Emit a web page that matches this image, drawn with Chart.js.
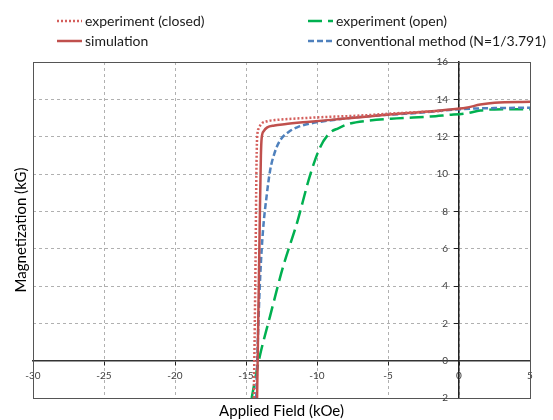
<!DOCTYPE html>
<html>
<head>
<meta charset="utf-8">
<script src="https://cdn.jsdelivr.net/npm/chart.js@4.4.0/dist/chart.umd.min.js"></script>
<style>
html, body { margin: 0; padding: 0; background: #fff; }
</style>
</head>
<body>
<canvas id="chart" width="553" height="420"></canvas>
<script>
// values (kOe / kG)
const closedX = [-14.45, -14.38, -14.32, -14.27, -14.22, -14.1, -13.9, -13.5, -12.8, -11.5, -9.5, -7, -4.5, -2.5, -1.2];
const closedY = [-2, 2, 6, 10, 11.9, 12.45, 12.7, 12.83, 12.9, 12.97, 13.05, 13.13, 13.25, 13.33, 13.38];

const simX = [-14.22, -14.12, -14.02, -13.95, -13.9, -13.75, -13.5, -13.0, -12.3, -10.5, -8, -5.5, -3, -1, 0.5, 1.5, 2.5, 5];
const simY = [-2, 3, 8, 11, 11.9, 12.3, 12.5, 12.6, 12.67, 12.8, 12.97, 13.15, 13.3, 13.43, 13.55, 13.72, 13.82, 13.87];

const openX = [-14.6, -14.1, -13.3, -12.4, -11.4, -10.5, -9.8, -9.1, -8.5, -7.7, -6.5, -4.4, -2, -0.8, 0.5, 1.5, 2.5, 5];
const openY = [-2, 0, 2.4, 5.0, 7.4, 9.9, 11.4, 12.2, 12.45, 12.7, 12.85, 12.98, 13.08, 13.16, 13.25, 13.4, 13.46, 13.47];

const convX = [-14.28, -14.15, -14.0, -13.8, -13.55, -13.3, -13.0, -12.6, -12.0, -11.4, -10.5, -9, -6.8, -3.2, 0.3, 2.5, 5];
const convY = [-2, 1.5, 4.5, 7.0, 8.8, 10.2, 11.1, 11.8, 12.25, 12.5, 12.7, 12.88, 13.07, 13.26, 13.48, 13.53, 13.55];

const labels = ['experiment (closed)', 'simulation', 'experiment (open)', 'conventional method (N=1/3.791)'];

function zip(xs, ys) {
    return xs.map((x, i) => ({ x: x, y: ys[i] }));
}

// legend drawn as a 2x2 grid like the original
const legendGrid = {
    id: 'legendGrid',
    afterDraw(chart) {
        const ctx = chart.ctx;
        const cols = [57, 308];
        const rows = [21, 41];
        chart.data.datasets.forEach((ds, i) => {
            const x = cols[Math.floor(i / 2)];
            const y = rows[i % 2];
            ctx.save();
            ctx.strokeStyle = ds.borderColor;
            ctx.lineWidth = ds.borderWidth;
            ctx.setLineDash(ds.borderDash || []);
            ctx.beginPath();
            ctx.moveTo(x, y);
            ctx.lineTo(x + 25, y);
            ctx.stroke();
            ctx.setLineDash([]);
            ctx.fillStyle = '#1a1a1a';
            ctx.font = '14px Lato';
            ctx.textBaseline = 'middle';
            ctx.fillText(ds.label, x + 28, y);
            ctx.restore();
        });
    }
};

// y labels sit a bit left of the centred axis, and the frame goes round the plot area
const plotFrame = {
    id: 'plotFrame',
    beforeDraw(chart) {
        const s = chart.scales.y;
        s.getLabelItems(chart.chartArea).forEach(it => {
            if (!it._moved) {
                it.options.translation[0] -= 11;
                it._moved = true;
            }
        });
    },
    afterDatasetsDraw(chart) {
        const a = chart.chartArea;
        const ctx = chart.ctx;
        ctx.save();
        ctx.strokeStyle = '#555';
        ctx.lineWidth = 1;
        ctx.strokeRect(Math.round(a.left) + 0.5, Math.round(a.top) + 0.5, Math.round(a.right - a.left), Math.round(a.bottom - a.top));
        ctx.restore();
    }
};

const common = { fill: false, pointRadius: 0, borderWidth: 2.5, cubicInterpolationMode: 'monotone' };

new Chart(document.getElementById('chart'), {
    type: 'line',
    data: {
        datasets: [
            Object.assign({ label: labels[0], data: zip(closedX, closedY), borderColor: '#d45f5c', borderDash: [2, 2], order: 1 }, common),
            Object.assign({ label: labels[1], data: zip(simX, simY), borderColor: '#c0504d', order: 2 }, common),
            Object.assign({ label: labels[2], data: zip(openX, openY), borderColor: '#00b050', borderDash: [14, 6], order: 4 }, common),
            Object.assign({ label: labels[3], data: zip(convX, convY), borderColor: '#4f81bd', borderDash: [6, 3], order: 3 }, common)
        ]
    },
    options: {
        responsive: false,
        animation: false,
        layout: { padding: { left: 8, right: 23, top: 62, bottom: 0 } },
        scales: {
            x: {
                type: 'linear',
                min: -30, max: 5,
                position: { y: 0 },
                ticks: { stepSize: 5, padding: 5, color: '#404040', font: { family: 'Lato', size: 10 } },
                grid: { color: '#b0b0b0', tickColor: '#222', tickLength: 4, tickBorderDash: [] },
                border: { color: '#333', width: 1.5, dash: [3, 3] }
            },
            y: {
                type: 'linear',
                min: -2, max: 16,
                position: { x: 0 },
                ticks: { stepSize: 2, padding: 6, color: '#404040', font: { family: 'Lato', size: 10 } },
                grid: { color: '#b0b0b0', tickColor: '#222', tickLength: 4, tickBorderDash: [] },
                border: { color: '#222', width: 1.5, dash: [3, 3] }
            }
        },
        plugins: {
            legend: { display: false },
            tooltip: { enabled: false },
            title: {
                display: true, text: 'Applied Field (kOe)', position: 'bottom', fullSize: false,
                color: '#000', font: { family: 'Lato', size: 15, weight: 'normal' }, padding: { top: 4, bottom: 0 }
            },
            subtitle: {
                display: true, text: 'Magnetization (kG)', position: 'left', fullSize: false,
                color: '#000', font: { family: 'Lato', size: 15 }, padding: { top: 4, bottom: 3 }
            }
        }
    },
    plugins: [legendGrid, plotFrame]
});
</script>
</body>
</html>
